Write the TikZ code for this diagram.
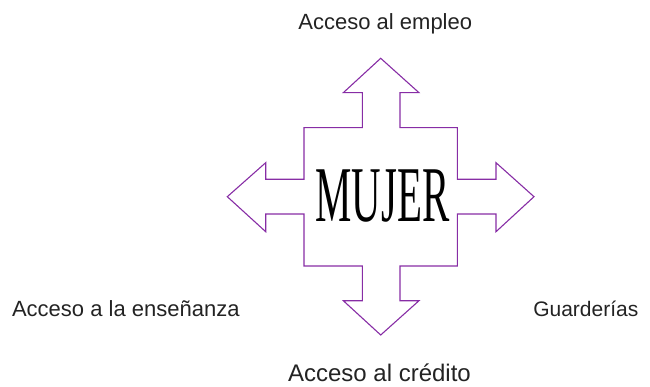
\documentclass[tikz,border=0pt]{standalone}
\usepackage{fontspec}
\setmainfont{Liberation Sans}
\newfontfamily\mujerfont[FakeStretch=0.517]{Liberation Serif}
\definecolor{cruz}{RGB}{135,45,165}
\definecolor{texto}{RGB}{35,35,35}

\begin{document}
\begin{tikzpicture}[x=1pt,y=-1pt,font=\fontsize{22}{26}\selectfont,anchor=base,text=texto]
      \useasboundingbox (0,0) rectangle (650,387);
      % cross of four arrows
      \draw[cruz,line width=1.1pt,line join=miter]
        (380.7,58.3) -- (419,92.7) -- (400,92.7) -- (400,127.7)
        -- (457.3,127.7) -- (457.3,179.3) -- (496,179.3) -- (496,162.7)
        -- (534,196.7) -- (496,231.7) -- (496,214) -- (457.3,214)
        -- (457.3,266) -- (400,266) -- (400,300.7) -- (419,300.7)
        -- (380.7,335) -- (343.3,300.7) -- (362.3,300.7) -- (362.3,266)
        -- (304,266) -- (304,214) -- (265.7,214) -- (265.7,231.7)
        -- (227.3,196.7) -- (265.7,162.7) -- (265.7,179.3) -- (304,179.3)
        -- (304,127.7) -- (362.3,127.7) -- (362.3,92.7) -- (343.3,92.7)
        -- cycle;
      \node[text=black] (mujer) at (382.5, 221.7) {\mujerfont\fontsize{79}{80}\selectfont MUJER};
      \node (empleo) at (385.3, 30) {Acceso al empleo};
      \node (ensenanza) at (125.8, 316.7) {Acceso a la enseñanza};
      \node[font=\fontsize{21}{25}\selectfont] (guarderias) at (585.8, 316.7) {Guarderías};
      \node[font=\fontsize{24}{28}\selectfont] (credito) at (379.5, 381) {Acceso al crédito};
    \end{tikzpicture}
\end{document}
